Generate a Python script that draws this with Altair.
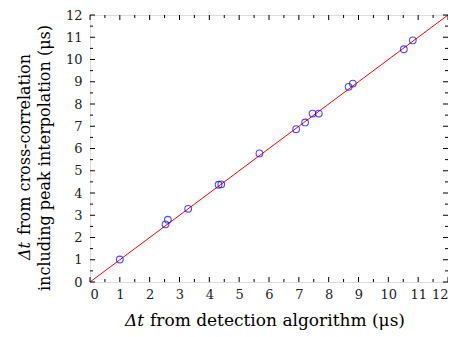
import altair as alt
import pandas as pd

# Data
x_det = [1.0, 2.53, 2.61, 3.29, 4.31, 4.40, 5.68, 6.91, 7.21, 7.46, 7.67, 8.67, 8.81, 10.52, 10.82]
y_xcorr = [1.01, 2.59, 2.80, 3.29, 4.37, 4.39, 5.78, 6.87, 7.17, 7.57, 7.57, 8.77, 8.92, 10.46, 10.86]
line_x = [0, 12]
line_y = [0, 12]
major_ticks = [0, 1, 2, 3, 4, 5, 6, 7, 8, 9, 10, 11, 12]
minor_ticks = [0.5, 1.5, 2.5, 3.5, 4.5, 5.5, 6.5, 7.5, 8.5, 9.5, 10.5, 11.5]

W, H = 358, 267
FONT = "DejaVu Serif"

pts = pd.DataFrame({"x": x_det, "y": y_xcorr})
ln = pd.DataFrame({"x": line_x, "y": line_y})
maj = pd.DataFrame({"t": major_ticks})
mnr = pd.DataFrame({"t": minor_ticks})

xs = alt.Scale(domain=[0, 12], nice=False, zero=False)
ys = alt.Scale(domain=[0, 12], nice=False, zero=False)

xaxis = alt.Axis(values=major_ticks, ticks=False, domain=False, grid=False, title=None,
                 labelFont=FONT, labelFontSize=13, labelColor="#222", labelPadding=6,
                 labelOverlap=False)
yaxis = alt.Axis(values=major_ticks, ticks=False, domain=False, grid=False, title=None,
                 labelFont=FONT, labelFontSize=13, labelColor="#222", labelPadding=8,
                 labelOverlap=False)

X = lambda f: alt.X(f, scale=xs, axis=xaxis)
Y = lambda f: alt.Y(f, scale=ys, axis=yaxis)

base_line = alt.Chart(ln).mark_line(color="red", strokeWidth=1, clip=True).encode(
    x=X("x:Q"), y=Y("y:Q"))

points = alt.Chart(pts).mark_point(shape="circle", filled=False, color="blue", size=45,
                                   strokeWidth=1.1).encode(x=X("x:Q"), y=Y("y:Q"))

def xticks(df, length):
    bottom = alt.Chart(df).mark_rule(color="black", strokeWidth=1).encode(
        x=X("t:Q"), y=alt.value(H), y2=alt.value(H - length))
    top = alt.Chart(df).mark_rule(color="black", strokeWidth=1).encode(
        x=X("t:Q"), y=alt.value(0), y2=alt.value(length))
    return bottom + top

def yticks(df, length):
    left = alt.Chart(df).mark_rule(color="black", strokeWidth=1).encode(
        y=Y("t:Q"), x=alt.value(0), x2=alt.value(length))
    right = alt.Chart(df).mark_rule(color="black", strokeWidth=1).encode(
        y=Y("t:Q"), x=alt.value(W), x2=alt.value(W - length))
    return left + right

def label(text, x, y, italic=False, align="left", angle=0, size=17, baseline="alphabetic"):
    return alt.Chart(pd.DataFrame({"s": [text]})).mark_text(
        font=FONT, fontSize=size, fontStyle="italic" if italic else "normal",
        align=align, baseline=baseline, angle=angle, color="black"
    ).encode(x=alt.value(x), y=alt.value(y), text="s:N")

titles = (
    label("\u0394t", 35, 311, italic=True)
    + label("from detection algorithm (\u03bcs)", 60, 311)
    + label("\u0394t", -65, 245, italic=True, angle=270, size=16, baseline="middle")
    + label("from cross-correlation", -65, 220, angle=270, size=16, baseline="middle")
    + label("including peak interpolation (\u03bcs)", -45, 143, align="center", angle=270,
            size=16, baseline="middle")
)

chart = alt.layer(
    base_line, points,
    xticks(maj, 5), xticks(mnr, 3), yticks(maj, 5), yticks(mnr, 3),
    titles,
).properties(
    width=W, height=H,
    autosize=alt.AutoSizeParams(type="none"),
    padding={"left": 82, "top": 7, "right": 0, "bottom": 49},
).configure_view(stroke="black", strokeWidth=1.2).configure_axis(
    labelFont=FONT
).configure(background="white")

chart.save("out.html", embed_options={"renderer": "svg", "actions": False})
